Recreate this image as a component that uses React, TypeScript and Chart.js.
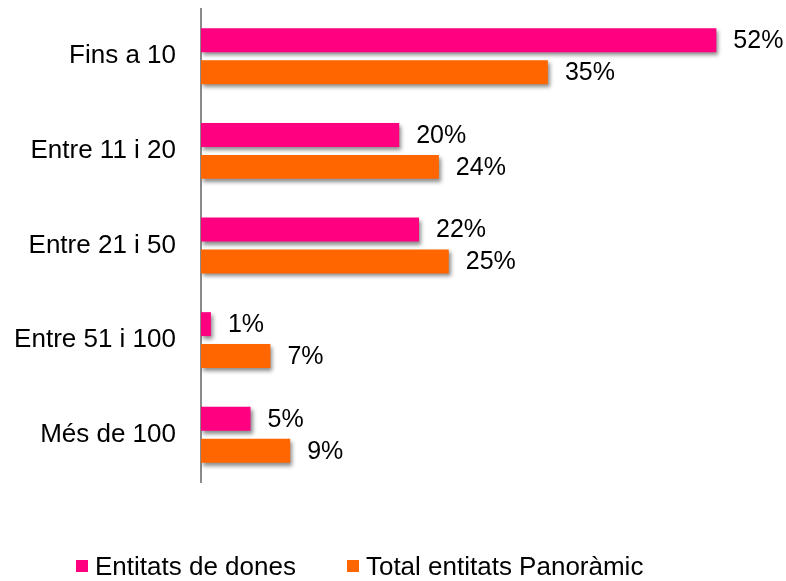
import React, { useEffect, useRef } from "react";
import { Chart, registerables } from "chart.js";

Chart.register(...registerables);

const categories = ["Fins a 10", "Entre 11 i 20", "Entre 21 i 50", "Entre 51 i 100", "Més de 100"];
const seriesNames = ["Entitats de dones", "Total entitats Panoràmic"];
const womenValues = [52, 20, 22, 1, 5];
const totalValues = [35, 24, 25, 7, 9];
const colors = ["#FF0080", "#FF6600"];

const FONT = "'Liberation Sans', Arial, sans-serif";

const shadowAndLabels = {
  id: "shadowAndLabels",
  beforeDatasetsDraw(chart: any) {
    const ctx = chart.ctx;
    ctx.save();
    ctx.shadowColor = "rgba(0,0,0,0.45)";
    ctx.shadowBlur = 4;
    ctx.shadowOffsetX = 2;
    ctx.shadowOffsetY = 3;
  },
  afterDatasetsDraw(chart: any) {
    const ctx = chart.ctx;
    ctx.restore();
    ctx.save();
    ctx.font = `25px ${FONT}`;
    ctx.fillStyle = "#000";
    ctx.textAlign = "left";
    ctx.textBaseline = "middle";
    chart.data.datasets.forEach((ds: any, di: number) => {
      const meta = chart.getDatasetMeta(di);
      meta.data.forEach((bar: any, i: number) => {
        ctx.fillText(`${ds.data[i]}%`, bar.x + 17, bar.y + 1);
      });
    });
    ctx.restore();
  },
};

export default function App() {
  const ref = useRef<HTMLCanvasElement | null>(null);
  useEffect(() => {
    if (!ref.current) return;
    const chart = new Chart(ref.current, {
      type: "bar",
      data: {
        labels: categories,
        datasets: [
          { label: seriesNames[0], data: womenValues, backgroundColor: colors[0], borderWidth: 0 },
          { label: seriesNames[1], data: totalValues, backgroundColor: colors[1], borderWidth: 0 },
        ],
      },
      options: {
        indexAxis: "y",
        animation: false,
        responsive: true,
        maintainAspectRatio: false,
        layout: { padding: { top: 9, bottom: 99, left: 0, right: 30 } },
        datasets: { bar: { categoryPercentage: 0.675, barPercentage: 0.75 } },
        plugins: { legend: { display: false }, tooltip: { enabled: false } },
        scales: {
          x: { display: false, min: 0, max: 56 },
          y: {
            grid: { display: false, drawTicks: false },
            border: { display: true, color: "#8a8a8a", width: 2 },
            ticks: { color: "#000", font: { family: FONT, size: 26 }, padding: 25 },
            afterFit: (s: any) => {
              s.width = 201;
              s.paddingTop = 0;
              s.paddingBottom = 0;
            },
          },
        },
      },
      plugins: [shadowAndLabels],
    });
    return () => chart.destroy();
  }, []);

  return (
    <div style={{ position: "fixed", left: 0, top: 0, width: 786, height: 581, background: "#fff" }}>
      <div style={{ position: "absolute", left: 0, top: 0, width: 786, height: 581 }}>
        <canvas ref={ref} />
      </div>
      <div
        style={{
          position: "absolute",
          left: 76,
          top: 551,
          height: 30,
          display: "flex",
          alignItems: "center",
          fontFamily: FONT,
          fontSize: 26,
          color: "#000",
          whiteSpace: "nowrap",
        }}
      >
        {seriesNames.map((n, i) => (
          <div key={n} style={{ display: "flex", alignItems: "center", marginRight: i === 0 ? 51 : 0 }}>
            <span style={{ display: "inline-block", width: 12, height: 12, background: colors[i], marginRight: 7 }} />
            <span>{n}</span>
          </div>
        ))}
      </div>
    </div>
  );
}
